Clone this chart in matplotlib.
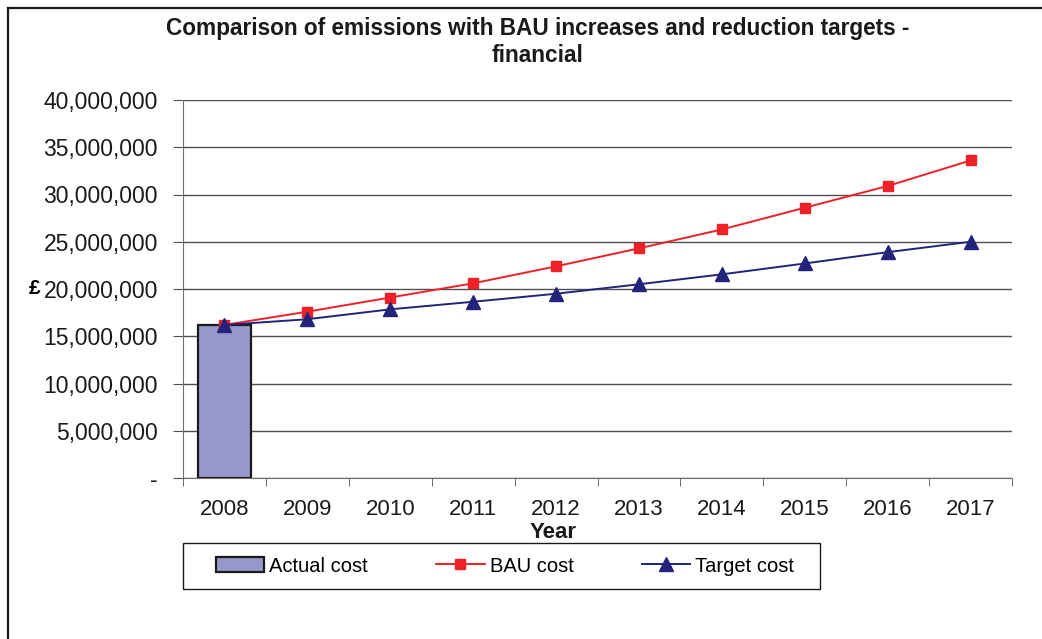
import matplotlib
matplotlib.use("Agg")
import matplotlib.pyplot as plt
from matplotlib.ticker import FuncFormatter, MultipleLocator, FixedLocator
from matplotlib.lines import Line2D
from matplotlib.patches import Rectangle

plt.rcParams['font.family'] = ['Liberation Sans', 'DejaVu Sans']

years = ['2008', '2009', '2010', '2011', '2012', '2013', '2014', '2015', '2016', '2017']
actual_cost = [16.2e6]
bau_cost = [16.2e6, 17.6e6, 19.1e6, 20.6e6, 22.4e6, 24.3e6, 26.3e6, 28.6e6, 30.9e6, 33.6e6]
target_cost = [16.2e6, 16.8e6, 17.85e6, 18.65e6, 19.5e6, 20.5e6, 21.55e6, 22.7e6, 23.9e6, 25.0e6]

W, H = 1042, 639
fig = plt.figure(figsize=(W / 100, H / 100), dpi=100)
ax = fig.add_axes([183 / W, 1 - 478 / H, (1012 - 183) / W, (478 - 100) / H])

x = list(range(len(years)))
h_bar = ax.bar(x[:len(actual_cost)], actual_cost, width=0.65, color='#9798ca',
               edgecolor='#1a1a1a', linewidth=1.6, zorder=2, label='Actual cost')
h_bau, = ax.plot(x, bau_cost, color='#ee2128', lw=1.4, marker='s', markersize=7,
                 markeredgecolor='#ee2128', zorder=3, label='BAU cost')
h_tgt, = ax.plot(x, target_cost, color='#23237a', lw=1.4, marker='^', markersize=10,
                 markeredgecolor='#23237a', zorder=3, label='Target cost')

ax.set_xlim(-0.5, len(years) - 0.5)
ax.set_ylim(0, 40e6)
ax.yaxis.set_major_locator(MultipleLocator(5e6))
ax.yaxis.set_major_formatter(FuncFormatter(lambda v, p: '-' if v == 0 else f'{int(v):,}'))
ax.grid(axis='y', color='#505050', lw=1.0, zorder=0)
ax.set_axisbelow(True)

ax.set_xticks(x)
ax.set_xticklabels(years)
ax.xaxis.set_minor_locator(FixedLocator([i - 0.5 for i in range(len(years) + 1)]))
ax.tick_params(axis='x', which='major', length=0, labelsize=16, pad=15, colors='#1a1a1a')
ax.tick_params(axis='x', which='minor', length=6, color='#505050', direction='out')
ax.tick_params(axis='y', length=7, color='#505050', labelsize=16.5, pad=11, labelcolor='#1a1a1a')

for s in ['top', 'right']:
    ax.spines[s].set_visible(False)
ax.spines['left'].set_color('#707070')
ax.spines['bottom'].set_color('#707070')

fig.text(553 / W, 1 - 532 / H, 'Year', fontsize=16, fontweight='bold', ha='center', va='center',
         color='#1a1a1a')
fig.text(35 / W, 1 - 289 / H, '£', fontsize=15, fontweight='bold', ha='center', va='center')

fig.text(538 / W, 1 - 28 / H, 'Comparison of emissions with BAU increases and reduction targets -',
         fontsize=16.3, fontweight='bold', ha='center', va='center', color='#1a1a1a')
fig.text(538 / W, 1 - 55 / H, 'financial', fontsize=16.3, fontweight='bold',
         ha='center', va='center', color='#1a1a1a')

# legend box
fig.add_artist(Rectangle((183 / W, 1 - 589 / H), (820 - 183) / W, 46 / H, transform=fig.transFigure,
                         fill=False, edgecolor='#1a1a1a', lw=1.0))
leg = fig.legend(handles=[h_bar, h_bau, h_tgt], labels=['Actual cost', 'BAU cost', 'Target cost'],
                 loc='center', bbox_to_anchor=(505 / W, 1 - 566 / H), ncol=3, fontsize=14.5,
                 frameon=False, handlelength=2.4, handletextpad=0.25, columnspacing=3.4,
                 borderpad=0, borderaxespad=0)

# outer chart border
fig.add_artist(Line2D([8 / W, 8 / W], [0, 1 - 8 / H], transform=fig.transFigure, color='#1a1a1a', lw=1.6))
fig.add_artist(Line2D([8 / W, 1], [1 - 8 / H, 1 - 8 / H], transform=fig.transFigure, color='#1a1a1a', lw=1.6))

fig.savefig('out.png', dpi=100)
